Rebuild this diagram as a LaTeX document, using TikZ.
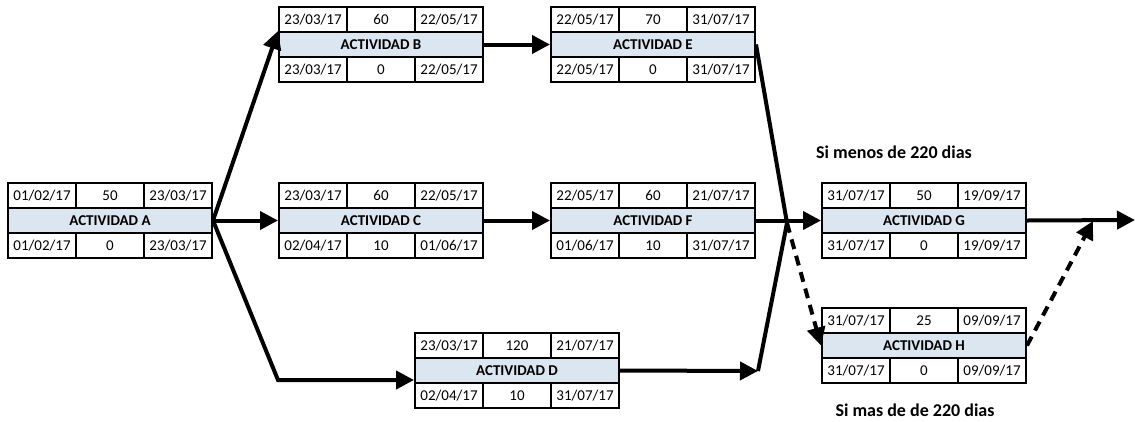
\documentclass[tikz,border=0pt]{standalone}
\usepackage{fontspec}
\setmainfont{Carlito}
\usetikzlibrary{arrows.meta,calc}
\definecolor{midfill}{RGB}{220,230,241}
\tikzset{
 cell/.style={draw, line width=2pt, minimum width=68pt, minimum height=25pt, inner sep=0pt, anchor=north west, font=\fontsize{15}{17}\selectfont},
 midcell/.style={cell, fill=midfill, minimum width=204pt, font=\fontsize{15}{17}\selectfont\bfseries},
 link/.style={line width=4pt, -{Triangle[length=18pt,width=18pt]}},
 plain/.style={line width=4pt},
 dlink/.style={line width=4pt, dash pattern=on 10pt off 7pt, -{Triangle[length=18pt,width=18pt]}},
 note/.style={font=\fontsize{18}{20}\selectfont\bfseries},
}
\newcommand\actbox[9]{%
 \begin{scope}[shift={#2}]
 \node[cell] (#1-es) at (0,0) {#3};
 \node[cell] (#1-du) at (68,0) {#4};
 \node[cell] (#1-ef) at (136,0) {#5};
 \node[midcell] (#1) at (0,25) {#6};
 \node[cell] (#1-ls) at (0,50) {#7};
 \node[cell] (#1-sl) at (68,50) {#8};
 \node[cell] (#1-lf) at (136,50) {#9};
 \end{scope}}
\begin{document}
\begin{tikzpicture}[x=1pt,y=-1pt]
\useasboundingbox (0,0) rectangle (1135,421);
\actbox{A}{(7,182)}{01/02/17}{50}{23/03/17}{ACTIVIDAD A}{01/02/17}{0}{23/03/17}
\actbox{B}{(278,6)}{23/03/17}{60}{22/05/17}{ACTIVIDAD B}{23/03/17}{0}{22/05/17}
\actbox{C}{(278,182)}{23/03/17}{60}{22/05/17}{ACTIVIDAD C}{02/04/17}{10}{01/06/17}
\actbox{D}{(414,332)}{23/03/17}{120}{21/07/17}{ACTIVIDAD D}{02/04/17}{10}{31/07/17}
\actbox{E}{(550,6)}{22/05/17}{70}{31/07/17}{ACTIVIDAD E}{22/05/17}{0}{31/07/17}
\actbox{F}{(550,182)}{22/05/17}{60}{21/07/17}{ACTIVIDAD F}{01/06/17}{10}{31/07/17}
\actbox{G}{(821,182)}{31/07/17}{50}{19/09/17}{ACTIVIDAD G}{31/07/17}{0}{19/09/17}
\actbox{H}{(821,307)}{31/07/17}{25}{09/09/17}{ACTIVIDAD H}{31/07/17}{0}{09/09/17}
\node[note] (lmenos) at (894,152) {Si menos de 220 dias};
\node[note] (lmas) at (915,410) {Si mas de de 220 dias};
\coordinate (dk) at (278,380);
\coordinate (jn) at (787,223);
\coordinate (dend) at (758,371);
\coordinate (gend) at (1093,221);
\coordinate (out) at (1135,220);
\draw[link] (A.east) -- (B.north west);
\draw[link] (A.east) -- (C.west);
\draw[link] (A.east) -- (dk) -- (dk -| D.west);
\draw[link] (B.east) -- (E.west);
\draw[link] (C.east) -- (F.west);
\draw[link] (D.east) -- (dend);
\draw[plain] (E.east) -- (jn);
\draw[plain] (dend) -- (jn);
\draw[link] (F.east) -- (G.west);
\draw[dlink] (jn) -- (H.west);
\draw[dlink] (H.east) -- (gend);
\draw[link] (G.east) -- (out);
\end{tikzpicture}
\end{document}
